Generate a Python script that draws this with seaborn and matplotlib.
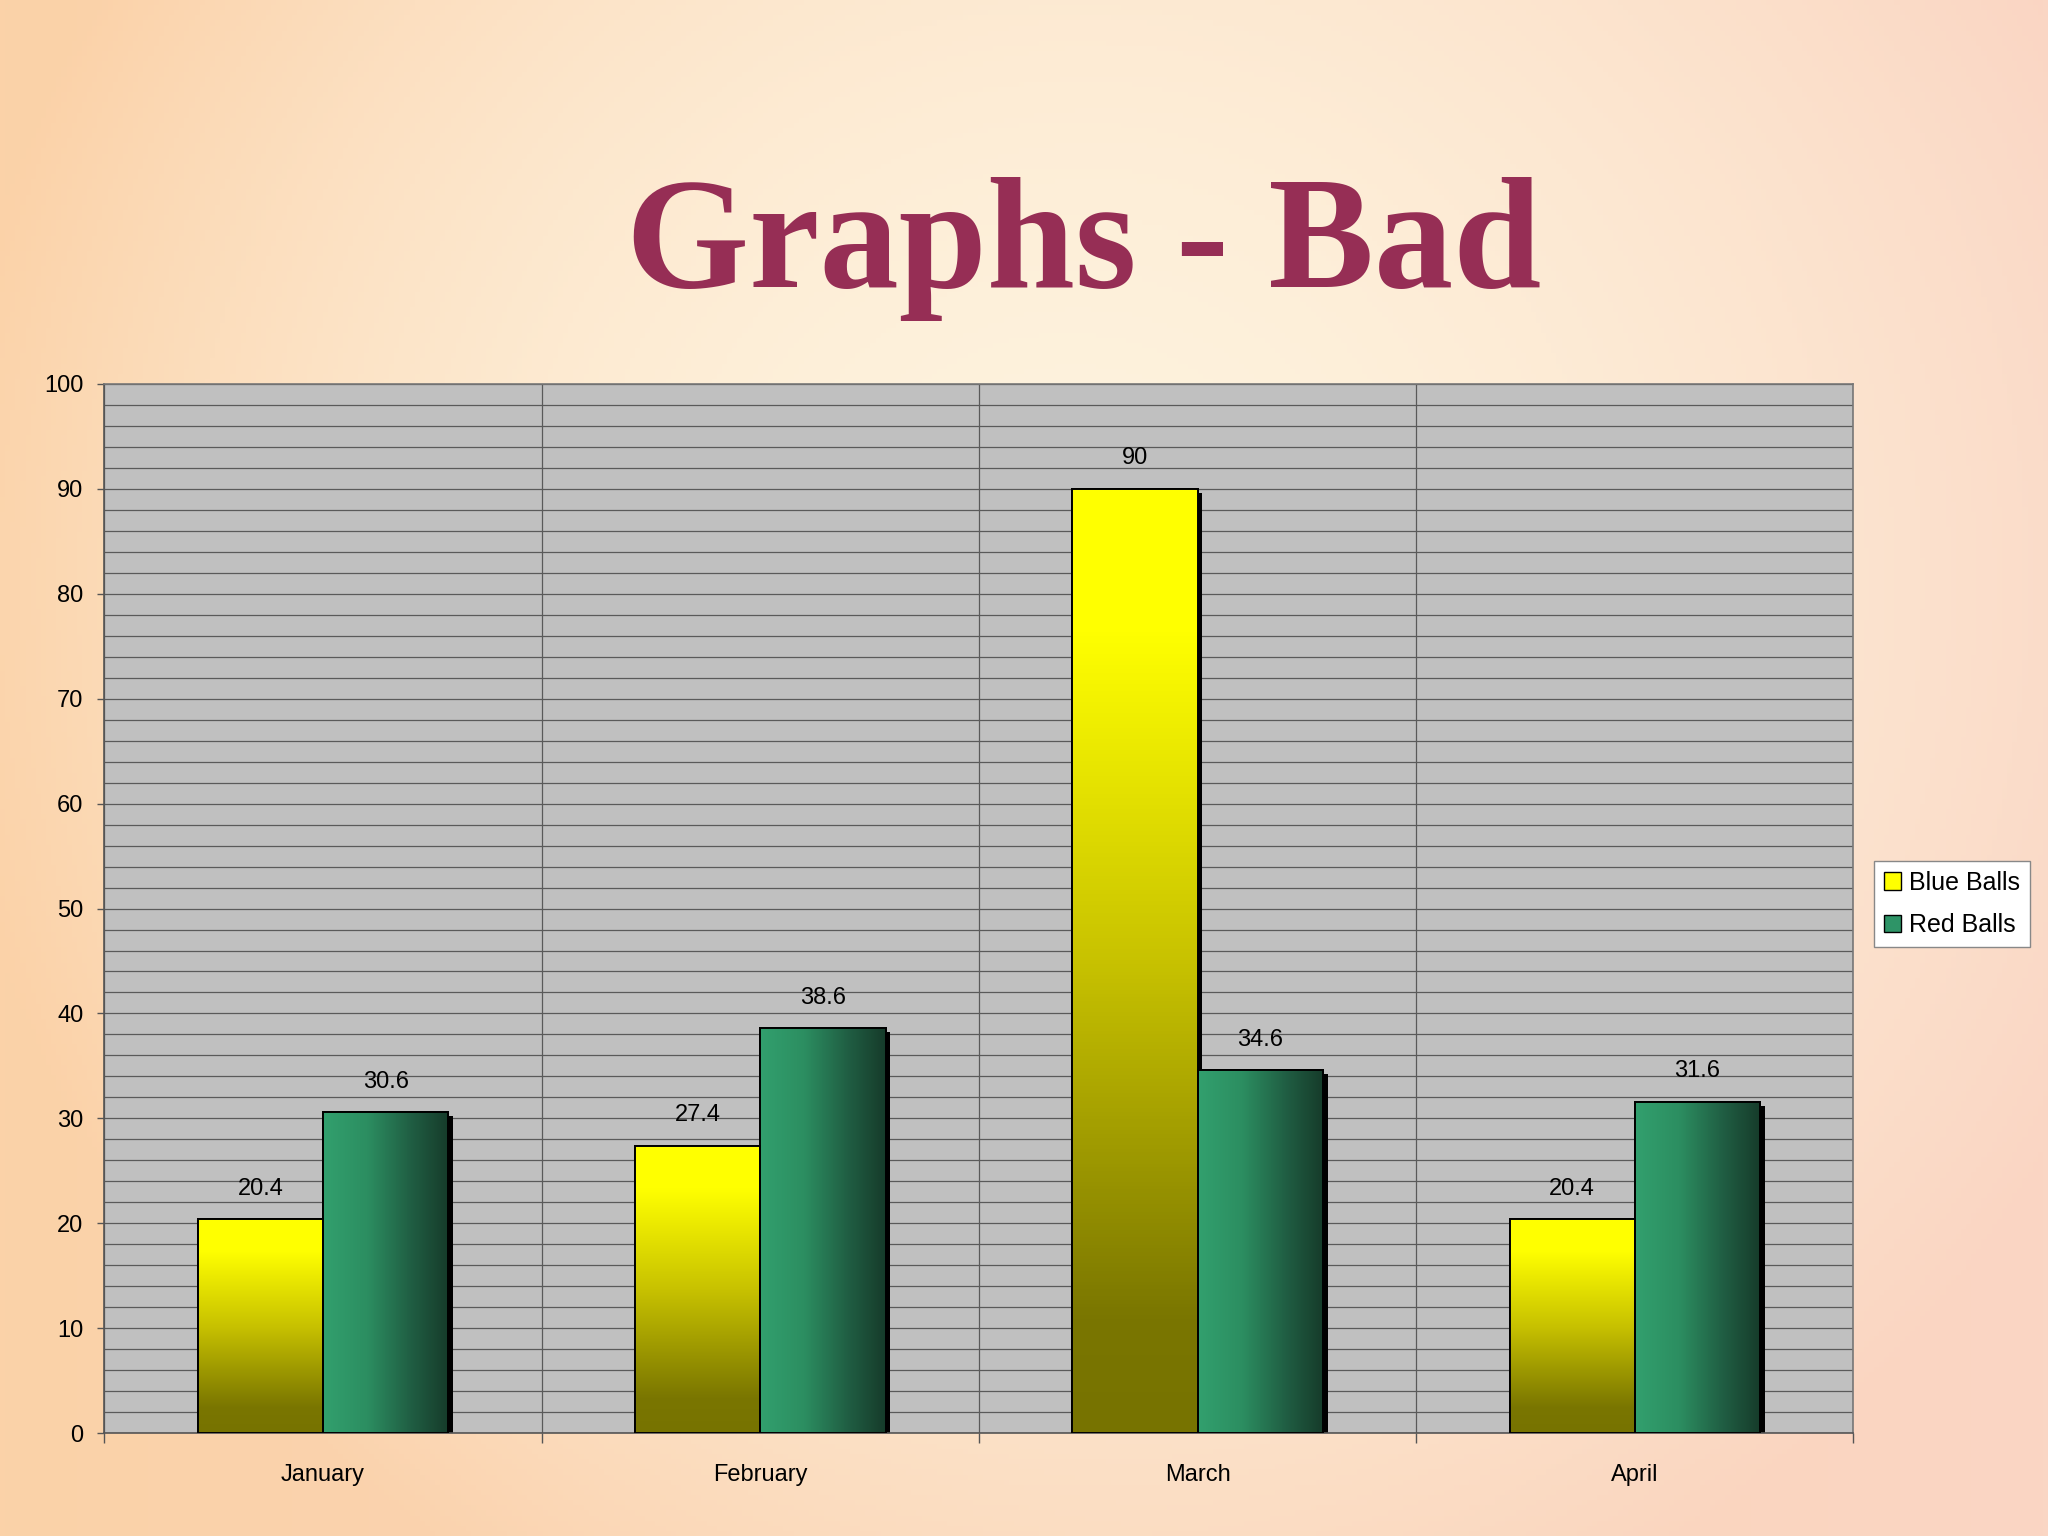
import numpy as np
import pandas as pd
import seaborn as sns
import matplotlib.pyplot as plt
import matplotlib.patheffects as pe
from matplotlib.colors import LinearSegmentedColormap
from matplotlib.patches import Patch, Rectangle
from matplotlib.ticker import MultipleLocator, FixedLocator

sns.set_theme(style="white")
plt.rcParams['font.family'] = ['Liberation Sans', 'DejaVu Sans']
plt.rcParams['text.color'] = 'black'

# Data
months = ["January", "February", "March", "April"]
blue_balls = [20.4, 27.4, 90, 20.4]
red_balls = [30.6, 38.6, 34.6, 31.6]
series = ["Blue Balls", "Red Balls"]

df = pd.DataFrame({
    "month": months * 2,
    "value": blue_balls + red_balls,
    "series": [series[0]] * 4 + [series[1]] * 4,
})

fig = plt.figure(figsize=(20.48, 15.36), dpi=100)

# peach slide background
bg = fig.add_axes([0, 0, 1, 1], zorder=-5)
yy, xx = np.mgrid[0:1:300j, 0:1:400j]
d = np.sqrt(((xx - 0.52) / 0.55) ** 2 + ((yy - 0.38) / 0.75) ** 2)
w = np.clip(d, 0, 1)[..., None] ** 1.8
center = np.array([254, 243, 222]) / 255
edge_l = np.array([251, 210, 168]) / 255
edge_r = np.array([250, 214, 196]) / 255
edge = edge_l * (1 - xx[..., None]) + edge_r * xx[..., None]
img = center * (1 - w) + edge * w
bg.imshow(img, extent=[0, 1, 0, 1], aspect='auto', origin='upper')
bg.axis('off')

ax = fig.add_axes([0.051, 0.067, 0.854, 0.683])
sns.barplot(data=df, x="month", y="value", hue="series", width=0.573,
            palette=["#FFFF00", "#2E9467"], legend=False, ax=ax,
            edgecolor="black", linewidth=1.4, saturation=1, zorder=2)

ax.set_facecolor("#C0C0C0")
ax.set_xlabel("")
ax.set_ylabel("")

ax.yaxis.set_major_locator(MultipleLocator(10))
ax.yaxis.set_minor_locator(MultipleLocator(2))
ax.xaxis.set_minor_locator(FixedLocator([-0.5, 0.5, 1.5, 2.5, 3.5]))
ax.grid(which="both", axis="y", color="#5a5a5a", linewidth=0.9, zorder=0)
ax.grid(which="minor", axis="x", color="#5a5a5a", linewidth=0.9, zorder=0)
ax.grid(which="major", axis="x", visible=False)
ax.set_axisbelow(True)

ax.tick_params(axis="y", which="major", length=5, width=1, color="#555555",
               pad=10, labelsize=17, left=True, direction="out", labelcolor="black")
ax.tick_params(axis="y", which="minor", length=0)
ax.tick_params(axis="x", which="major", length=0, pad=22, labelsize=17,
               labelcolor="black")
ax.tick_params(axis="x", which="minor", length=7, width=1, color="#555555",
               bottom=True, direction="out")
for s in ax.spines.values():
    s.set_color("#777777")
    s.set_linewidth(1.2)
ax.spines["left"].set_color("#555555")
ax.spines["bottom"].set_color("#555555")

yellow_cmap = LinearSegmentedColormap.from_list(
    "y", [(0, "#777300"), (0.12, "#7a7600"), (0.5, "#c8c200"), (0.85, "#ffff00"), (1, "#ffff00")])
green_cmap = LinearSegmentedColormap.from_list(
    "g", [(0, "#32A06E"), (0.35, "#2C8E61"), (0.7, "#205E43"), (1, "#163B2A")])

bars = list(ax.patches)
for i, bar in enumerate(bars):
    x0, y0 = bar.get_x(), bar.get_y()
    bw, bh = bar.get_width(), bar.get_height()
    if i < len(months):
        grad = np.linspace(1, 0, 256).reshape(-1, 1)
        cmap = yellow_cmap
    else:
        grad = np.linspace(0, 1, 256).reshape(1, -1)
        cmap = green_cmap
    im = ax.imshow(grad, cmap=cmap, extent=[x0, x0 + bw, y0, y0 + bh],
                   aspect="auto", zorder=2.5, vmin=0, vmax=1)
    im.set_clip_path(bar)
    bar.set_path_effects([pe.SimplePatchShadow(offset=(3.5, -3), shadow_rgbFace="black", alpha=1),
                          pe.Normal()])
    outline = Rectangle((x0, y0), bw, bh, facecolor="none", edgecolor="black",
                        linewidth=1.4, zorder=3)
    ax.add_patch(outline)
    ax.annotate(f"{bar.get_height():g}", (x0 + bw / 2, y0 + bh),
                xytext=(0, 14), textcoords="offset points", ha="center",
                va="bottom", fontsize=17, color="black")
ax.set_xlim(-0.5, 3.5)
ax.set_ylim(0, 100)

handles = [Patch(facecolor="#FFFF00", edgecolor="black", label=series[0]),
           Patch(facecolor="#2E9467", edgecolor="black", label=series[1])]
leg = fig.legend(handles=handles, loc="center left", bbox_to_anchor=(0.915, 0.4115),
                 fontsize=18, frameon=True, fancybox=False, handlelength=0.7,
                 handleheight=0.7, handletextpad=0.3, borderpad=0.4,
                 labelspacing=0.75, borderaxespad=0, labelcolor="black")
leg.get_frame().set_facecolor("white")
leg.get_frame().set_edgecolor("#888888")
leg.get_frame().set_alpha(1)

fig.text(0.529, 0.813, "Graphs - Bad", ha="center", va="baseline",
         fontsize=114, fontweight="bold", color="#962E55", family="Liberation Serif")

fig.savefig("out.png", dpi=100)
